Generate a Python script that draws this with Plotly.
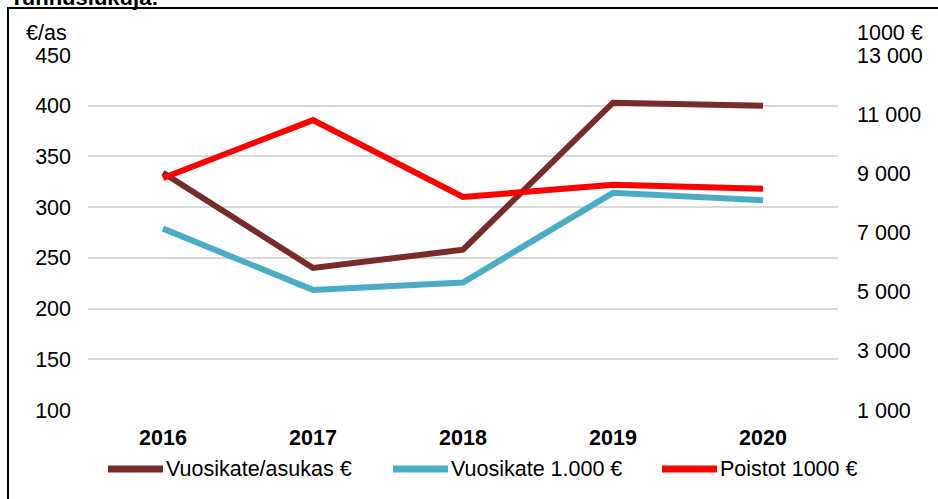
import plotly.graph_objects as go

years = ["2016", "2017", "2018", "2019", "2020"]
vuosikate_asukas = [334, 240, 258, 403, 400]      # €/as, left axis
vuosikate_1000 = [7130, 5060, 5310, 8340, 8090]   # 1000 €, right axis
poistot_1000 = [8840, 10800, 8200, 8610, 8480]    # 1000 €, right axis

names = ["Vuosikate/asukas €", "Vuosikate 1.000 €", "Poistot 1000 €"]
colors = ["#772C2A", "#4BACC6", "#FF0000"]

W, H = 938, 499
L, R, T, B = 88, 100, 55, 89
PW, PH = W - L - R, H - T - B

def px(x):
    return (x - L) / PW

def py(y):
    return (H - B - y) / PH

FONT = "Arial, Liberation Sans, sans-serif"
FS = 21.5

fig = go.Figure()
fig.add_trace(go.Scatter(x=years, y=vuosikate_asukas, name=names[0], mode="lines",
                         line=dict(color=colors[0], width=6), yaxis="y"))
fig.add_trace(go.Scatter(x=years, y=vuosikate_1000, name=names[1], mode="lines",
                         line=dict(color=colors[1], width=6), yaxis="y2"))
fig.add_trace(go.Scatter(x=years, y=poistot_1000, name=names[2], mode="lines",
                         line=dict(color=colors[2], width=6), yaxis="y2"))

shapes = [
    dict(type="rect", xref="paper", yref="paper",
         x0=px(8), x1=px(W + 10), y0=py(H + 10), y1=py(8),
         line=dict(color="black", width=2), fillcolor="rgba(0,0,0,0)", layer="below"),
]
annotations = [
    dict(text="<b>Tunnuslukuja:</b>", xref="paper", yref="paper", x=px(8), y=py(12.5),
         xanchor="left", yanchor="bottom", showarrow=False,
         font=dict(family=FONT, size=22, color="black")),
    dict(text="€/as", xref="paper", yref="paper", x=px(24), y=py(33),
         xanchor="left", yanchor="middle", showarrow=False,
         font=dict(family=FONT, size=FS, color="black")),
    dict(text="1000 €", xref="paper", yref="paper", x=px(855), y=py(33),
         xanchor="left", yanchor="middle", showarrow=False,
         font=dict(family=FONT, size=FS, color="black")),
]

# custom legend
leg_y = 469
leg_items = [(108, 163, 164), (393, 448, 449), (662, 717, 718)]
for (x0, x1, xt), name, col in zip(leg_items, names, colors):
    shapes.append(dict(type="line", xref="paper", yref="paper",
                       x0=px(x0), x1=px(x1), y0=py(leg_y), y1=py(leg_y),
                       line=dict(color=col, width=7)))
    annotations.append(dict(text=name, xref="paper", yref="paper", x=px(xt), y=py(leg_y),
                            xanchor="left", yanchor="middle", showarrow=False,
                            font=dict(family=FONT, size=FS, color="black")))

fig.update_layout(
    width=W, height=H,
    margin=dict(l=L, r=R, t=T, b=B, autoexpand=False),
    paper_bgcolor="white", plot_bgcolor="white",
    showlegend=False,
    font=dict(family=FONT, size=FS, color="black"),
    xaxis=dict(type="category", range=[-0.5, 4.5], showgrid=False, zeroline=False,
               showline=False, ticks="", ticklabelstandoff=12,
               tickfont=dict(family=FONT, size=FS, color="black", weight="bold")),
    yaxis=dict(range=[100, 450], dtick=50, tick0=100, showgrid=True, gridcolor="#D9D9D9",
               gridwidth=1.5, zeroline=False, showline=False, ticks="", ticklabelstandoff=16,
               tickfont=dict(family=FONT, size=FS, color="black")),
    yaxis2=dict(range=[1000, 13000], dtick=2000, tick0=1000, overlaying="y", side="right",
                showgrid=False, zeroline=False, showline=False, ticks="", ticklabelstandoff=18,
                tickformat=",d", tickfont=dict(family=FONT, size=FS, color="black")),
    separators=", ",
    shapes=shapes,
    annotations=annotations,
)

fig.write_html("out.html", config={"displayModeBar": False},
               post_script="document.body.style.margin='0';document.body.style.overflow='hidden';")
